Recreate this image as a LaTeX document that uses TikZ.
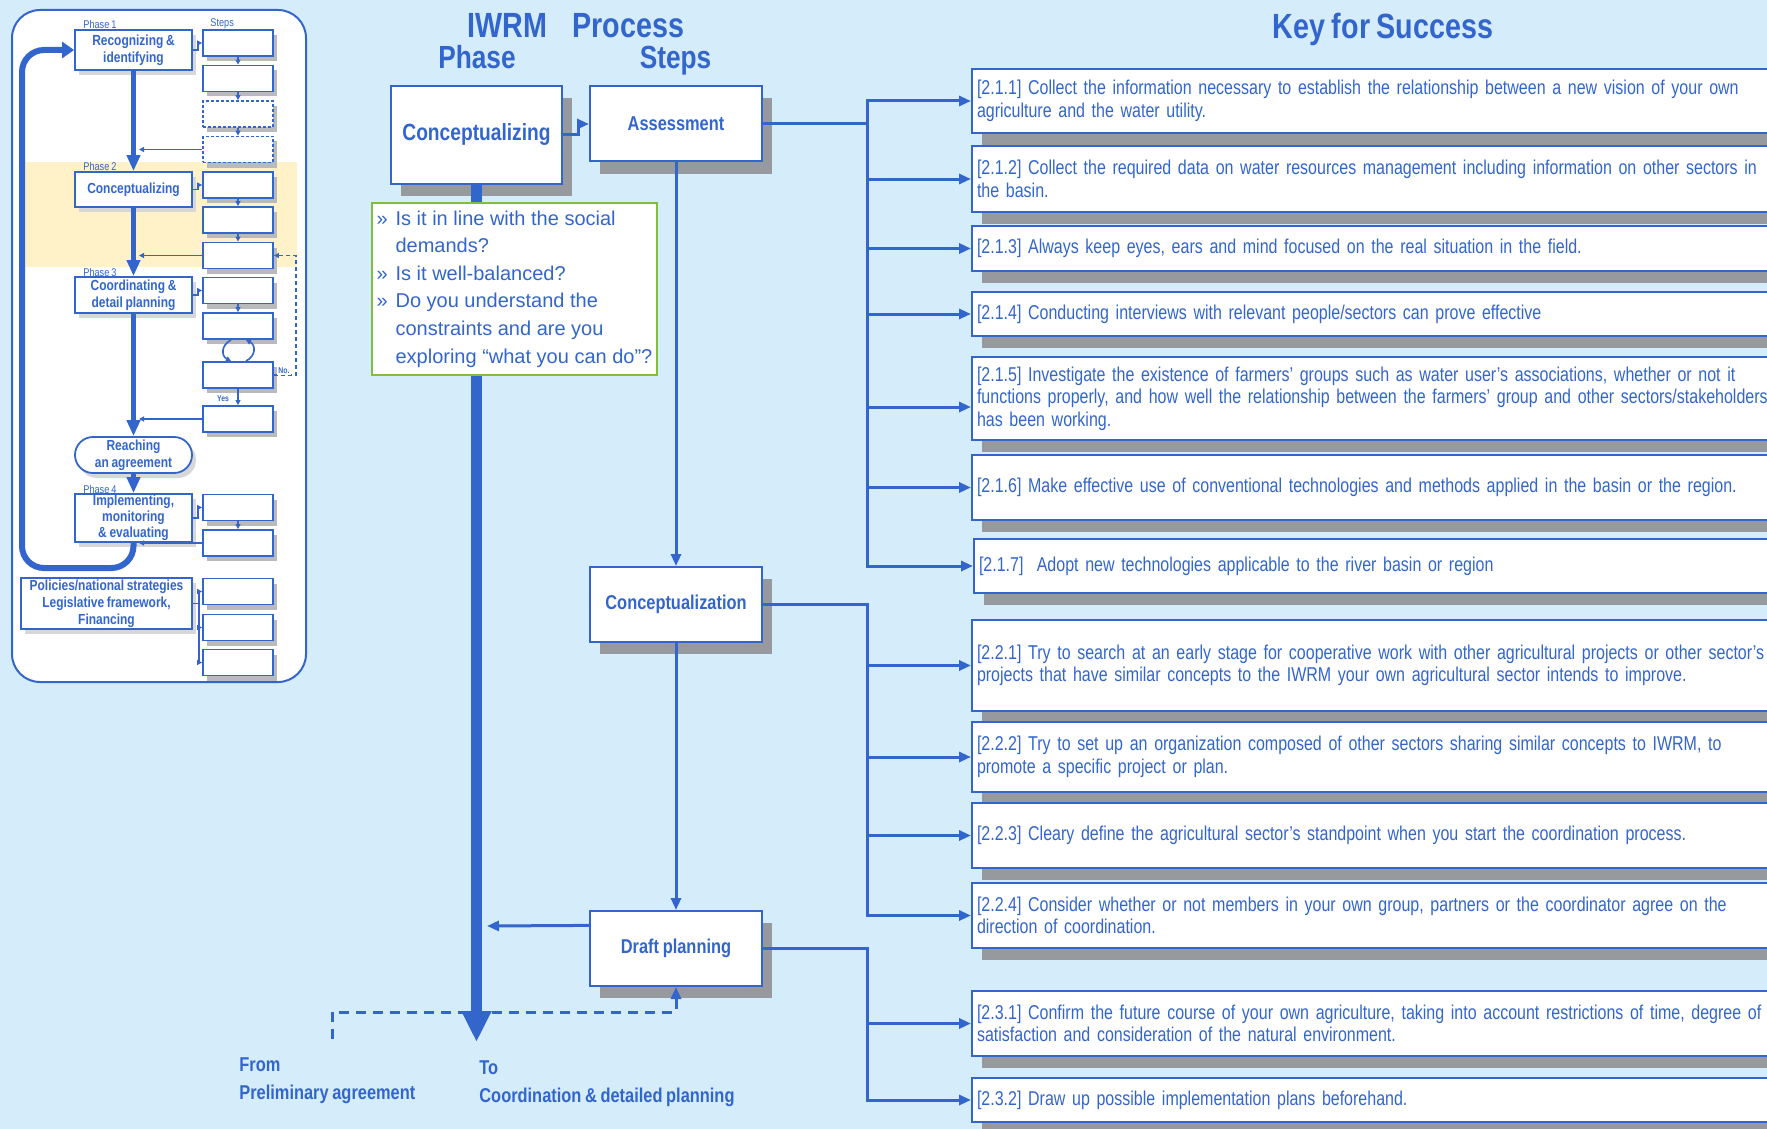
\documentclass[tikz,border=0pt]{standalone}
\usepackage{fontspec}
\setmainfont{Liberation Sans}
\newfontfamily\nar[FakeStretch=0.82,WordSpace=0.8]{Liberation Sans}
\newfontfamily\narb[FakeStretch=0.80,WordSpace=0.6]{Liberation Sans}
\usetikzlibrary{arrows.meta,shadows,calc}
\definecolor{bg}{RGB}{213,236,250}
\definecolor{bl}{RGB}{51,102,204}
\definecolor{shg}{RGB}{150,153,157}
\definecolor{sshg}{RGB}{185,186,188}
\definecolor{lsh}{RGB}{215,215,215}
\definecolor{grn}{RGB}{130,190,60}
\definecolor{ylw}{RGB}{255,242,200}
\begin{document}
\begin{tikzpicture}[x=0.5pt,y=-0.5pt,
  hdr/.style={text=bl, inner sep=0pt, anchor=base, font=\nar\bfseries\fontsize{17.5}{20}\selectfont},
  mbox/.style={draw=bl, line width=1pt, fill=white, text=bl, inner sep=0pt, minimum width=86pt, minimum height=37.5pt, font=\nar\bfseries\fontsize{10}{12}\selectfont, drop shadow={shadow xshift=5pt, shadow yshift=-6pt, fill=shg, opacity=1}},
  keybox/.style={draw=bl, line width=1pt, fill=white, text=bl, anchor=west, align=left, text width=440pt, inner xsep=2.5pt, inner ysep=1.5pt, font=\narb\fontsize{10}{11.3}\selectfont, drop shadow={shadow xshift=5pt, shadow yshift=-6pt, fill=shg, opacity=1}},
  conn/.style={draw=bl, line width=1.5pt},
  arr/.style={conn, -{Triangle[length=6pt,width=5pt]}},
  lbl/.style={text=bl, inner sep=0pt, anchor=base west, font=\nar\bfseries\fontsize{10}{12}\selectfont},
  pbox/.style={draw=bl, line width=0.9pt, fill=white, text=bl, inner sep=0pt, align=center, minimum width=58.5pt, font=\nar\bfseries\fontsize{7.3}{8.5}\selectfont, drop shadow={shadow xshift=2pt, shadow yshift=-2.5pt, fill=lsh, opacity=1}},
  sbox/.style={draw=bl, line width=0.9pt, fill=white, inner sep=0pt, minimum width=35pt, minimum height=13pt, drop shadow={shadow xshift=2pt, shadow yshift=-2.5pt, fill=sshg, opacity=1}},
  plbl/.style={text=bl, inner sep=0pt, anchor=west, font=\nar\fontsize{5.6}{6}\selectfont},
  tiny/.style={text=bl, inner sep=0pt, font=\nar\bfseries\fontsize{4.2}{5}\selectfont},
  thk/.style={draw=bl, line width=2.8pt, -{Triangle[length=8pt,width=6.5pt]}},
  mini/.style={draw=bl, line width=0.8pt, -{Triangle[length=2.5pt,width=2.5pt]}},
]
\fill[bg] (0,0) rectangle (1767,1129);
\useasboundingbox (0,0) rectangle (1767,1129);
\clip (0,0) rectangle (1767,1129);

% ---------------- left overview panel ----------------
\draw[bl, line width=1pt, fill=white, rounded corners=14pt] (12,10) rectangle (306,682);
\fill[ylw] (24,162) rectangle (297,267);

\node[plbl] (ph1) at (83,24) {Phase 1};
\node[plbl] (stp) at (210,24) {Steps};
\node[plbl] (ph2) at (83,166) {Phase 2};
\node[plbl] (ph3) at (83,272) {Phase 3};
\node[plbl] (ph4) at (83,489) {Phase 4};

\node[pbox, minimum height=20pt] (p1) at (133.5,50) {Recognizing \&\\identifying};
\node[pbox, minimum height=17.5pt] (p2) at (133.5,189.5) {Conceptualizing};
\node[pbox, minimum height=18pt] (p3) at (133.5,295) {Coordinating \&\\detail planning};
\node[pbox, minimum height=18pt, rounded corners=9pt] (reach) at (133.5,455) {Reaching\\an agreement};
\node[pbox, minimum height=24pt, font=\nar\bfseries\fontsize{7.3}{8}\selectfont] (p4) at (133.5,518) {Implementing,\\monitoring\\\& evaluating};
\node[pbox, minimum width=85.5pt, minimum height=25.5pt] (pol) at (106.5,603.5) {Policies/national strategies\\Legislative framework,\\Financing};

\node[sbox] (s1) at (238,43) {};
\node[sbox] (s2) at (238,78.5) {};
\node[sbox, dashed, dash pattern=on 1.5pt off 1pt] (s3) at (238,114) {};
\node[sbox, dashed, dash pattern=on 1.5pt off 1pt] (s4) at (238,149.5) {};
\node[sbox] (s5) at (238,185) {};
\node[sbox] (s6) at (238,220) {};
\node[sbox] (s7) at (238,255.5) {};
\node[sbox] (s8) at (238,290.5) {};
\node[sbox] (s9) at (238,326) {};
\node[sbox] (s10) at (238,375) {};
\node[sbox] (s11) at (238,419) {};
\node[sbox] (s12) at (238,507.5) {};
\node[sbox] (s13) at (238,543) {};
\node[sbox] (s14) at (238,591.5) {};
\node[sbox] (s15) at (238,627.5) {};
\node[sbox] (s16) at (238,662.5) {};

\draw[thk] (p1.south) -- (p2.north);
\draw[thk] (p2.south) -- (p3.north);
\draw[thk] (p3.south) -- (reach.north);
\draw[thk] (reach.south) -- (p4.north);
\coordinate (lp) at (22,568);
\draw[bl, line width=3pt, rounded corners=11pt, -{Triangle[length=6pt,width=8pt]}] (p4.south) |- (lp) |- (p1.west);

\draw[mini] (p1.east) -- ++(5,0) |- (s1.west);
\draw[mini] (p2.east) -- ++(5,0) |- (s5.west);
\draw[mini] (p3.east) -- ++(5,0) |- (s8.west);
\draw[mini] (p4.east) -- ++(5,0) |- (s12.west);
\draw[mini] (pol.east) -- ++(6,0) |- (s14.west);
\draw[mini] (pol.east) -- ++(6,0) |- (s15.west);
\draw[mini] (pol.east) -- ++(6,0) |- (s16.west);

\draw[mini] (s1.south) -- (s2.north);
\draw[mini] (s2.south) -- (s3.north);
\draw[mini] (s3.south) -- (s4.north);
\draw[mini] (s5.south) -- (s6.north);
\draw[mini] (s6.south) -- (s7.north);
\draw[mini] (s8.south) -- (s9.north);
\draw[mini] (s10.south) -- (s11.north);
\draw[mini] (s12.south) -- (s13.north);

\coordinate (mx) at (139,0);
\draw[mini] (s4.west) -- (s4.west -| mx);
\draw[mini] (s7.west) -- (s7.west -| mx);
\draw[mini] (s11.west) -- (s11.west -| mx);
\draw[mini] (s13.west) -- (s13.west -| mx);

\coordinate (c1) at (231,340);
\coordinate (c2) at (231,361);
\coordinate (c3) at (246,361);
\coordinate (c4) at (246,340);
\draw[mini] (c1) .. controls (221,345) and (221,356) .. (c2);
\draw[mini] (c3) .. controls (256,356) and (256,345) .. (c4);

\draw[bl, line width=0.8pt, dash pattern=on 2pt off 1.5pt, -{Triangle[length=2.5pt,width=2.5pt]}] (s10.east) -- ++(22,0) |- (s7.east);
\node[tiny, fill=white, inner sep=0.5pt] (no) at (284,371) {No.};
\node[tiny] (yes) at (223,399) {Yes};

% ---------------- headers ----------------
\node[hdr] (h1) at (507.5,38) {IWRM};
\node[hdr] (h2) at (628.5,38) {Process};
\node[hdr, font=\nar\bfseries\fontsize{16}{18}\selectfont] (h3) at (477,69) {Phase};
\node[hdr, font=\nar\bfseries\fontsize{16}{18}\selectfont] (h4) at (675.5,69) {Steps};
\node[hdr] (h5) at (1383,39) {Key for Success};

% ---------------- main flow ----------------
\coordinate (fromP) at (332,1039);
\coordinate (dl) at (332,1012);
\coordinate (mainend) at (0,1042);
\coordinate (mainx) at (487,926);

\node[mbox, minimum width=85.5pt, minimum height=49pt, font=\nar\bfseries\fontsize{11.7}{14}\selectfont] (conc) at (476.5,135) {\raisebox{-1.5pt}{Conceptualizing}};
\node[mbox] (assess) at (676,124) {\raisebox{-1pt}{Assessment}};
\node[mbox] (concz) at (676,604.5) {\raisebox{-1pt}{Conceptualization}};
\node[mbox] (draft) at (676,948.5) {\raisebox{-1pt}{Draft planning}};

\draw[conn, dash pattern=on 5pt off 3.5pt, -{Triangle[length=6pt,width=5pt]}] (fromP) -- (dl) -| (draft.south);
\draw[bl, line width=5.5pt, -{Triangle[length=15.5pt,width=14pt]}] (conc.south) -- (conc.south |- mainend);

\node[draw=grn, line width=1pt, fill=white, text=bl, align=left, inner xsep=0pt, minimum width=142.5pt, minimum height=86pt, font=\fontsize{10}{13.8}\selectfont] (quest) at (514.5,289)
 {\makebox[9.5pt][l]{»}Is it in line with the social\\
  \hspace*{9.5pt}demands?\\
  \makebox[9.5pt][l]{»}Is it well-balanced?\\
  \makebox[9.5pt][l]{»}Do you understand the\\
  \hspace*{9.5pt}constraints and are you\\
  \hspace*{9.5pt}exploring “what you can do”?};

\draw[arr] (conc.east) -- ++(15,0) |- (assess.west);
\draw[arr] (assess.south) -- (concz.north);
\draw[arr] (concz.south) -- (draft.north);
\draw[arr] ($(draft.north west)!0.2!(draft.south west)$) -- (mainx);

\node[lbl] (from1) at (239,1071) {From};
\node[lbl] (from2) at (239,1099) {Preliminary agreement};
\node[lbl] (to1) at (479,1074) {To};
\node[lbl] (to2) at (479,1102) {Coordination \& detailed planning};

% ---------------- key boxes ----------------
\node[keybox, minimum height=32pt] (k211) at (971,101) {[2.1.1] Collect the information necessary to establish the relationship between a new vision of your own\\agriculture and the water utility.};
\node[keybox, minimum height=33pt] (k212) at (971,179) {[2.1.2] Collect the required data on water resources management including information on other sectors in\\the basin.};
\node[keybox, minimum height=22.5pt] (k213) at (971,248.5) {[2.1.3] Always keep eyes, ears and mind focused on the real situation in the field.};
\node[keybox, minimum height=22pt] (k214) at (971,314) {[2.1.4] Conducting interviews with relevant people/sectors can prove effective};
\node[keybox, minimum height=41.5pt] (k215) at (971,398.5) {[2.1.5] Investigate the existence of farmers’ groups such as water user’s associations, whether or not it\\functions properly, and how well the relationship between the farmers’ group and other sectors/stakeholders\\has been working.};
\node[keybox, minimum height=32.5pt] (k216) at (971,487.5) {[2.1.6] Make effective use of conventional technologies and methods applied in the basin or the region.};
\node[keybox, minimum height=27pt] (k217) at (973,566) {[2.1.7]\ \ Adopt new technologies applicable to the river basin or region};
\node[keybox, minimum height=45.5pt] (k221) at (971,665.5) {[2.2.1] Try to search at an early stage for cooperative work with other agricultural projects or other sector’s\\projects that have similar concepts to the IWRM your own agricultural sector intends to improve.};
\node[keybox, minimum height=35pt] (k222) at (971,757) {[2.2.2] Try to set up an organization composed of other sectors sharing similar concepts to IWRM, to\\promote a specific project or plan.};
\node[keybox, minimum height=32.5pt] (k223) at (971,835.5) {[2.2.3] Cleary define the agricultural sector’s standpoint when you start the coordination process.};
\node[keybox, minimum height=32.5pt] (k224) at (971,915.5) {[2.2.4] Consider whether or not members in your own group, partners or the coordinator agree on the\\direction of coordination.};
\node[keybox, minimum height=32.5pt] (k231) at (971,1023.5) {[2.3.1] Confirm the future course of your own agriculture, taking into account restrictions of time, degree of\\satisfaction and consideration of the natural environment.};
\node[keybox, minimum height=22pt] (k232) at (971,1100) {[2.3.2] Draw up possible implementation plans beforehand.};

\coordinate (bus) at (867,0);
\coordinate (k215a) at ($(k215.north west)!0.6!(k215.south west)$);
\draw[conn] (assess.east) -- (assess.east -| bus);
\draw[arr] (bus |- k217.west) |- (k211.west);
\draw[arr] (bus |- k211.west) |- (k217.west);
\foreach \k in {k212,k213,k214,k216} \draw[arr] (bus |- \k.west) -- (\k.west);
\draw[arr] (bus |- k215a) -- (k215a);

\draw[arr] (concz.east) -- (concz.east -| bus) |- (k224.west);
\foreach \k in {k221,k222,k223} \draw[arr] (bus |- \k.west) -- (\k.west);

\draw[arr] (draft.east) -- (draft.east -| bus) |- (k232.west);
\draw[arr] (bus |- k231.west) -- (k231.west);
\end{tikzpicture}
\end{document}
